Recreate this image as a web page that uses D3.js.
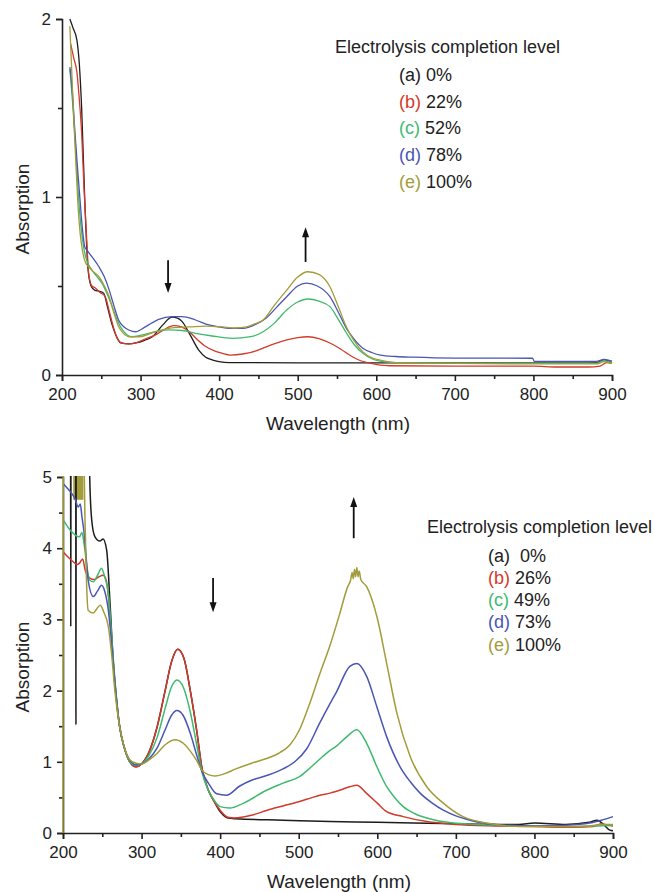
<!DOCTYPE html>
<html>
<head>
<meta charset="utf-8">
<script src="https://d3js.org/d3.v7.min.js"></script>
<style>
  body { margin: 0; background: #fff; font-family: "Liberation Sans", Arial, sans-serif; }
  svg text { fill: #222; }
  .axis path, .axis line { stroke: #222; stroke-width: 1.6; }
  .axis text { font-size: 17px; font-family: "Liberation Sans", Arial, sans-serif; fill: #222; }
  .curve { fill: none; stroke-linejoin: round; }
  .legend text { font-size: 18px; white-space: pre; }
</style>
</head>
<body>
<script>
// ---- shared axis values
var wlTicks = [200, 300, 400, 500, 600, 700, 800, 900]
var wlMinor = [250, 350, 450, 550, 650, 750, 850]
var topAbsTicks = [0, 1, 2]
var topAbsMinor = [0.5, 1.5]
var bottomAbsTicks = [0, 1, 2, 3, 4, 5]
var bottomAbsMinor = [0.5, 1.5, 2.5, 3.5, 4.5]

var seriesLetters = ['(a)', '(b)', '(c)', '(d)', '(e)']
var seriesColors = ['#1c1c1c', '#d23a2a', '#3dba6e', '#4a56b4', '#a39c3a']
var topLevels = ['0%', '22%', '52%', '78%', '100%']
var bottomLevels = [' 0%', '26%', '49%', '73%', '100%']

// ---- top panel spectra [wavelength nm, absorption]
var topA = [[210,2.0],[214,1.95],[219,1.88],[222,1.75],[225,1.5],[229,0.98],[233,0.6],[237,0.5],[242,0.475],[248,0.47],
  [253,0.46],[258,0.38],[264,0.28],[270,0.21],[275,0.18],[285,0.175],[294,0.18],[305,0.195],[315,0.215],[328,0.28],
  [340,0.325],[347,0.32],[353,0.3],[362,0.234],[374,0.14],[383,0.1],[391,0.085],[400,0.075],[413,0.07],[500,0.068],
  [600,0.068],[700,0.068],[800,0.068],[860,0.068],[880,0.07],[890,0.085],[895,0.08],[900,0.07]]
var topB = [[211,1.86],[215,1.78],[219,1.7],[222,1.55],[225,1.36],[228,1.05],[231,0.8],[234,0.57],[238,0.5],[242,0.49],
  [248,0.465],[255,0.44],[260,0.36],[266,0.26],[271,0.2],[275,0.18],[285,0.175],[294,0.18],[305,0.2],[319,0.225],
  [330,0.255],[342,0.277],[352,0.27],[362,0.243],[372,0.2],[383,0.16],[394,0.135],[404,0.122],[414,0.112],[430,0.118],
  [447,0.135],[456,0.151],[470,0.175],[486,0.197],[500,0.21],[513,0.215],[527,0.205],[541,0.18],[555,0.145],[566,0.112],
  [580,0.08],[592,0.067],[605,0.055],[617,0.052],[700,0.05],[800,0.05],[830,0.045],[870,0.045],[885,0.05],[893,0.07],[900,0.065]]
var topC = [[210,1.72],[214,1.5],[217,1.3],[221,1.0],[225,0.8],[230,0.665],[238,0.59],[245,0.55],[251,0.515],[258,0.45],
  [264,0.384],[270,0.31],[277,0.253],[283,0.225],[289,0.215],[302,0.225],[319,0.243],[336,0.253],[353,0.25],[370,0.234],
  [391,0.219],[417,0.206],[440,0.215],[456,0.243],[470,0.29],[486,0.365],[500,0.41],[513,0.427],[527,0.415],[541,0.384],
  [552,0.31],[562,0.236],[572,0.17],[583,0.122],[595,0.09],[605,0.078],[625,0.07],[650,0.068],[700,0.066],[800,0.066],
  [880,0.066],[890,0.08],[900,0.07]]
var topD = [[210,1.73],[213,1.6],[216.5,1.36],[220,1.15],[223,0.98],[226,0.82],[229,0.72],[232,0.7],[238,0.665],[247,0.608],
  [254,0.55],[260,0.478],[266,0.39],[272,0.309],[279,0.27],[285,0.253],[294,0.243],[306,0.27],[323,0.313],[340,0.328],
  [353,0.328],[370,0.309],[387,0.281],[400,0.27],[413,0.262],[430,0.262],[447,0.285],[460,0.32],[473,0.38],[486,0.44],
  [500,0.5],[511,0.516],[525,0.5],[541,0.44],[552,0.35],[562,0.262],[572,0.2],[583,0.15],[595,0.125],[605,0.112],
  [625,0.104],[647,0.1],[700,0.095],[799,0.094],[801,0.076],[880,0.076],[890,0.088],[900,0.078]]
var topE = [[210,1.96],[212,1.75],[214,1.54],[217,1.25],[220,0.98],[223,0.8],[226,0.7],[230,0.63],[234,0.608],[240,0.58],
  [247,0.552],[254,0.5],[260,0.44],[266,0.35],[272,0.272],[278,0.235],[285,0.215],[298,0.215],[319,0.243],[340,0.265],
  [362,0.27],[383,0.275],[404,0.27],[420,0.264],[435,0.27],[447,0.29],[456,0.309],[470,0.39],[486,0.477],[500,0.55],
  [513,0.58],[527,0.565],[541,0.496],[552,0.38],[562,0.27],[572,0.19],[583,0.13],[595,0.095],[605,0.084],[625,0.07],
  [650,0.067],[700,0.065],[800,0.062],[880,0.062],[890,0.075],[900,0.065]]

// ---- bottom panel spectra (values above 5 are off scale and get clipped)
var bottomA = [[209.6,5.6],[209.9,2.9],[210.2,5.6],[216.2,5.6],[216.5,1.52],[216.8,5.6],[233,5.6],[234,5.0],[236.5,4.4],
  [240.7,4.16],[247,4.1],[251,4.13],[255.6,3.97],[260,3.2],[264,2.4],[268,1.9],[272,1.5],[278,1.2],[285,1.0],[293,0.93],
  [300,0.97],[310,1.15],[320,1.5],[330,2.0],[338,2.4],[346,2.58],[354,2.45],[362,2.0],[370,1.45],[377,0.9],[385,0.6],
  [392,0.45],[400,0.3],[410,0.21],[420,0.2],[480,0.18],[540,0.16],[600,0.15],[700,0.13],[780,0.12],[800,0.14],[840,0.12],
  [870,0.15],[880,0.18],[888,0.12],[896,0.04],[900,0.03]]
var bottomB = [[200,3.95],[206,3.88],[213,3.81],[218,3.77],[221,3.79],[225,3.85],[228,3.7],[234,3.58],[240,3.56],[246,3.6],
  [251,3.62],[255,3.55],[258,3.3],[262,2.7],[266,2.1],[272,1.5],[278,1.2],[285,1.0],[293,0.93],[300,0.97],[310,1.15],
  [320,1.5],[330,2.0],[338,2.4],[346,2.58],[354,2.45],[362,2.0],[370,1.45],[377,0.9],[385,0.6],[392,0.45],[400,0.32],
  [410,0.22],[418,0.21],[440,0.25],[460,0.32],[480,0.38],[500,0.44],[515,0.49],[527,0.53],[540,0.56],[552,0.6],
  [565,0.65],[574,0.67],[586,0.56],[600,0.42],[612,0.3],[633,0.23],[663,0.16],[700,0.12],[750,0.1],[800,0.09],
  [850,0.08],[875,0.09],[885,0.13],[893,0.11],[900,0.1]]
var bottomC = [[200,4.4],[206,4.3],[211,4.23],[216,4.18],[221,4.16],[224,4.22],[227,4.05],[231,3.7],[234,3.55],[238.6,3.53],
  [244,3.62],[249,3.72],[253,3.6],[257.7,3.37],[262,2.75],[266,2.15],[272,1.5],[278,1.2],[285,1.0],[293,0.95],[300,0.97],
  [310,1.1],[320,1.35],[330,1.75],[338,2.05],[345,2.15],[353,2.05],[362,1.7],[370,1.25],[377,0.85],[385,0.6],[393,0.45],
  [400,0.37],[412,0.35],[430,0.42],[459,0.6],[480,0.7],[502,0.8],[515,0.92],[527,1.04],[540,1.16],[548,1.22],[561,1.35],
  [574,1.45],[586.5,1.26],[599.5,0.93],[612,0.65],[622,0.5],[633,0.37],[648,0.27],[663,0.21],[697,0.14],[750,0.11],
  [800,0.1],[850,0.09],[880,0.1],[900,0.11]]
var bottomD = [[200,4.91],[205,4.85],[211,4.77],[215,4.7],[219.5,4.58],[222,4.62],[224,4.45],[227,4.2],[230,3.8],[232,3.55],
  [238.6,3.32],[244,3.4],[249,3.48],[253,3.4],[257.7,3.13],[262,2.65],[266,2.1],[272,1.5],[278,1.2],[285,1.02],[293,0.96],
  [300,0.97],[310,1.05],[320,1.2],[330,1.45],[338,1.65],[345,1.72],[353,1.65],[362,1.4],[370,1.1],[377,0.86],[385,0.7],
  [395.6,0.55],[408,0.53],[425,0.66],[440,0.74],[460,0.81],[480,0.9],[495,1.0],[510,1.18],[527,1.55],[540,1.82],
  [548,1.98],[565,2.34],[574,2.38],[586.5,2.2],[599.5,1.77],[612,1.35],[629,0.93],[642,0.72],[654.5,0.56],[670,0.42],
  [684,0.32],[700,0.24],[718,0.18],[761,0.11],[800,0.1],[840,0.11],[870,0.14],[885,0.18],[900,0.23]]
var bottomE = [[200,0],[200.3,5.6],[226,5.6],[228,4.4],[230,3.5],[232,3.13],[238.6,3.09],[243,3.15],[247.5,3.2],[252,3.1],
  [257.7,2.9],[262,2.5],[266,2.0],[272,1.5],[278,1.2],[285,1.03],[293,0.98],[300,0.97],[310,1.03],[320,1.12],[330,1.24],
  [343,1.31],[353,1.26],[362,1.15],[370,1.02],[377,0.88],[385,0.82],[393.5,0.8],[405,0.83],[420,0.9],[440,0.98],
  [460,1.05],[476,1.13],[489,1.24],[501,1.45],[514,1.82],[527,2.24],[540,2.64],[552.5,3.09],[562,3.45],
  [566,3.55],[568,3.66],[569.5,3.57],[571,3.7],[572.5,3.6],[574,3.73],[575.5,3.6],[577,3.68],[579,3.56],[586.5,3.46],
  [599.5,3.04],[612,2.38],[625,1.68],[642,1.07],[663,0.65],[684,0.42],[709,0.23],[739,0.14],[782,0.09],[830,0.09],
  [870,0.1],[885,0.12],[900,0.12]]
// detector saturation block of curve (e): [from nm, to nm, lowest absorption]
var bottomSaturation = [[213, 226, 4.68]]

// ---- arrows [wavelength, tail absorption, head absorption]
var topArrows = [[335, 0.645, 0.46], [510, 0.635, 0.83]]
var bottomArrows = [[391, 3.58, 3.1], [570, 4.14, 4.72]]

var svg = d3.select('body').append('svg').attr('width', 654).attr('height', 892)

function drawPanel(p){
  var x = d3.scaleLinear().domain([200, 900]).range(p.xRange)
  var y = d3.scaleLinear().domain(p.yDomain).range(p.yRange)
  var g = svg.append('g')

  g.append('clipPath').attr('id', p.id + '-clip')
    .append('rect')
    .attr('x', p.xRange[0] - 2).attr('y', p.yRange[1] - 1)
    .attr('width', p.xRange[1] - p.xRange[0] + 4).attr('height', p.yRange[0] - p.yRange[1] + 1)

  // axes
  g.append('g').attr('class', 'axis').attr('transform', 'translate(0,' + p.yRange[0] + ')')
    .call(d3.axisBottom(x).tickValues(wlTicks).tickSizeOuter(0).tickSize(6).tickPadding(7).tickFormat(d3.format('d')))
  g.append('g').attr('class', 'axis').attr('transform', 'translate(0,' + p.yRange[0] + ')')
    .call(d3.axisBottom(x).tickValues(wlMinor).tickSizeOuter(0).tickSize(4).tickFormat(''))
    .select('.domain').remove()
  g.append('g').attr('class', 'axis').attr('transform', 'translate(' + p.xRange[0] + ',0)')
    .call(d3.axisLeft(y).tickValues(p.yTicks).tickSizeOuter(0).tickSize(6).tickPadding(5).tickFormat(d3.format('d')))
  g.append('g').attr('class', 'axis').attr('transform', 'translate(' + p.xRange[0] + ',0)')
    .call(d3.axisLeft(y).tickValues(p.yMinor).tickSizeOuter(0).tickSize(4).tickFormat(''))
    .select('.domain').remove()

  g.append('text').text('Wavelength (nm)')
    .attr('x', (p.xRange[0] + p.xRange[1]) / 2 + 1).attr('y', p.yRange[0] + 48)
    .attr('dy', '0.35em').attr('text-anchor', 'middle').style('font-size', '19px')
  g.append('text').text('Absorption')
    .attr('transform', 'translate(22,' + ((p.yRange[0] + p.yRange[1]) / 2 + 12) + ') rotate(-90)')
    .attr('dy', '0.35em').attr('text-anchor', 'middle').style('font-size', '19px')

  // curves
  var line = d3.line().x(function(d){ return x(d[0]) }).y(function(d){ return y(d[1]) })
    .curve(d3.curveMonotoneX)
  var plot = g.append('g').attr('clip-path', 'url(#' + p.id + '-clip)')
  ;(p.blocks || []).forEach(function(b){
    plot.append('rect').attr('x', x(b[0])).attr('width', x(b[1]) - x(b[0]))
      .attr('y', y(p.yDomain[1]) - 2).attr('height', y(b[2]) - y(p.yDomain[1]) + 2)
      .attr('fill', seriesColors[4])
  })
  plot.selectAll('path.curve').data(p.series).enter().append('path')
    .attr('class', 'curve')
    .attr('d', line)
    .attr('stroke', function(d, i){ return seriesColors[i] })
    .attr('stroke-width', p.lineWidth)

  // arrows
  p.arrows.forEach(function(a){
    var ax = x(a[0]), y1 = y(a[1]), y2 = y(a[2])
    var dir = y2 > y1 ? 1 : -1
    g.append('line').attr('x1', ax).attr('x2', ax).attr('y1', y1).attr('y2', y2 - dir * 8)
      .attr('stroke', '#111').attr('stroke-width', 1.8)
    g.append('path')
      .attr('d', 'M' + (ax - 3.5) + ',' + (y2 - dir * 10) + 'L' + (ax + 3.5) + ',' + (y2 - dir * 10) + 'L' + ax + ',' + y2 + 'Z')
      .attr('fill', '#111')
  })

  // legend
  var lg = g.append('g').attr('class', 'legend')
  lg.append('text').text('Electrolysis completion level')
    .attr('x', p.legend.titleX).attr('y', p.legend.titleY).attr('dy', '0.35em')
  var rows = lg.selectAll('text.row').data(p.levels).enter().append('text')
    .attr('class', 'row')
    .attr('x', p.legend.x)
    .attr('y', function(d, i){ return p.legend.rows[i] })
    .attr('dy', '0.35em')
  rows.append('tspan').text(function(d, i){ return seriesLetters[i] })
    .style('fill', function(d, i){ return i === 0 ? '#222' : seriesColors[i] })
  rows.append('tspan').text(function(d){ return ' ' + d })
}

drawPanel({
  id: 'top', xRange: [62, 612], yDomain: [0, 2], yRange: [375, 19],
  yTicks: topAbsTicks, yMinor: topAbsMinor,
  series: [topA, topB, topC, topD, topE], lineWidth: 1.3,
  arrows: topArrows, levels: topLevels,
  legend: { titleX: 335, titleY: 47, x: 399, rows: [75, 102, 128, 155, 182] }
})

drawPanel({
  id: 'bottom', xRange: [63, 613], yDomain: [0, 5], yRange: [833, 477],
  yTicks: bottomAbsTicks, yMinor: bottomAbsMinor,
  series: [bottomA, bottomB, bottomC, bottomD, bottomE], lineWidth: 1.5,
  blocks: bottomSaturation,
  arrows: bottomArrows, levels: bottomLevels,
  legend: { titleX: 427, titleY: 527, x: 488, rows: [556, 578, 600, 622, 645] }
})
</script>
</body>
</html>
